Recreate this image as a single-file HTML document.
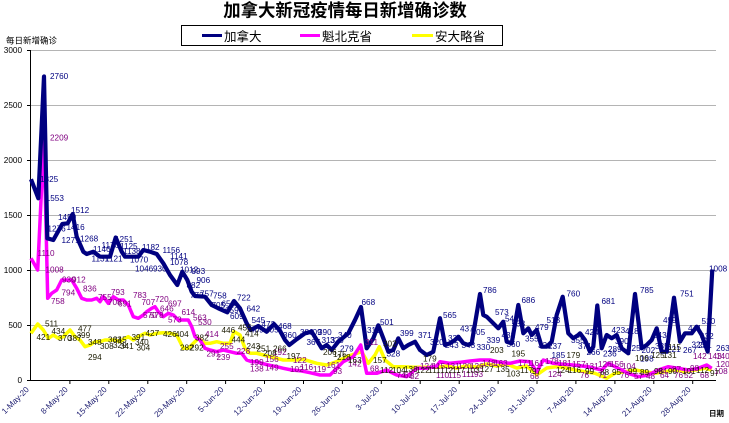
<!DOCTYPE html>
<html><head><meta charset="utf-8"><style>
html,body{margin:0;padding:0;background:#fff;}
svg{display:block;}
.n{font-family:"Liberation Sans",Arial,sans-serif;font-size:8.2px;}
.nv{fill:#000080;}
.mg{fill:#800080;}
.yl{fill:#1a1a00;}
.cjk{font-family:"Liberation Sans","Noto Sans CJK SC","WenQuanYi Zen Hei",sans-serif;}
</style></head><body>
<svg width="729" height="423" viewBox="0 0 729 423" xmlns="http://www.w3.org/2000/svg">
<rect width="729" height="423" fill="#fff"/>
<text x="345" y="16.5" text-anchor="middle" class="cjk" font-size="17.4" font-weight="bold" fill="#000">加拿大新冠疫情每日新增确诊数</text>
<rect x="181.5" y="25.5" width="321" height="20" fill="#fff" stroke="#000" stroke-width="1"/>
<line x1="202" y1="35.5" x2="222" y2="35.5" stroke="#000080" stroke-width="3"/>
<text x="224" y="41" class="cjk" font-size="12.5" fill="#000">加拿大</text>
<line x1="300" y1="35.5" x2="320" y2="35.5" stroke="#ff00ff" stroke-width="3"/>
<text x="322" y="41" class="cjk" font-size="12.5" fill="#000">魁北克省</text>
<line x1="412" y1="35.5" x2="433" y2="35.5" stroke="#ffff00" stroke-width="3"/>
<text x="435" y="41" class="cjk" font-size="12.5" fill="#000">安大略省</text>
<text x="6" y="43.5" class="cjk" font-size="8.5" fill="#000">每日新增确诊</text>
<g stroke="#b4b4b4" stroke-width="1">
<line x1="31" y1="50.5" x2="716" y2="50.5"/>
<line x1="31" y1="105.5" x2="716" y2="105.5"/>
<line x1="31" y1="160.5" x2="716" y2="160.5"/>
<line x1="31" y1="215.5" x2="716" y2="215.5"/>
<line x1="31" y1="270.5" x2="716" y2="270.5"/>
<line x1="31" y1="325.5" x2="716" y2="325.5"/>
</g>
<g stroke="#000" stroke-width="1">
<line x1="30.5" y1="50" x2="30.5" y2="381"/>
<line x1="30" y1="380.5" x2="716" y2="380.5"/>
<line x1="27" y1="50.5" x2="31" y2="50.5"/>
<line x1="27" y1="105.5" x2="31" y2="105.5"/>
<line x1="27" y1="160.5" x2="31" y2="160.5"/>
<line x1="27" y1="215.5" x2="31" y2="215.5"/>
<line x1="27" y1="270.5" x2="31" y2="270.5"/>
<line x1="27" y1="325.5" x2="31" y2="325.5"/>
<line x1="27" y1="380.5" x2="31" y2="380.5"/>
<line x1="69.9" y1="380" x2="69.9" y2="384"/>
<line x1="108.8" y1="380" x2="108.8" y2="384"/>
<line x1="147.8" y1="380" x2="147.8" y2="384"/>
<line x1="186.7" y1="380" x2="186.7" y2="384"/>
<line x1="225.6" y1="380" x2="225.6" y2="384"/>
<line x1="264.5" y1="380" x2="264.5" y2="384"/>
<line x1="303.5" y1="380" x2="303.5" y2="384"/>
<line x1="342.4" y1="380" x2="342.4" y2="384"/>
<line x1="381.3" y1="380" x2="381.3" y2="384"/>
<line x1="420.2" y1="380" x2="420.2" y2="384"/>
<line x1="459.2" y1="380" x2="459.2" y2="384"/>
<line x1="498.1" y1="380" x2="498.1" y2="384"/>
<line x1="537" y1="380" x2="537" y2="384"/>
<line x1="575.9" y1="380" x2="575.9" y2="384"/>
<line x1="614.9" y1="380" x2="614.9" y2="384"/>
<line x1="653.8" y1="380" x2="653.8" y2="384"/>
<line x1="692.7" y1="380" x2="692.7" y2="384"/>
</g>
<g class="n" fill="#000" text-anchor="end" font-size="8">
<text x="22" y="53">3000</text>
<text x="22" y="108">2500</text>
<text x="22" y="163">2000</text>
<text x="22" y="218">1500</text>
<text x="22" y="273">1000</text>
<text x="22" y="328">500</text>
<text x="22" y="383">0</text>
</g>
<g class="n" fill="#1c1c70" text-anchor="end" font-size="8">
<text transform="translate(29.5,390) rotate(-45)">1-May-20</text>
<text transform="translate(68.4,390) rotate(-45)">8-May-20</text>
<text transform="translate(107.3,390) rotate(-45)">15-May-20</text>
<text transform="translate(146.3,390) rotate(-45)">22-May-20</text>
<text transform="translate(185.2,390) rotate(-45)">29-May-20</text>
<text transform="translate(224.1,390) rotate(-45)">5-Jun-20</text>
<text transform="translate(263,390) rotate(-45)">12-Jun-20</text>
<text transform="translate(302,390) rotate(-45)">19-Jun-20</text>
<text transform="translate(340.9,390) rotate(-45)">26-Jun-20</text>
<text transform="translate(379.8,390) rotate(-45)">3-Jul-20</text>
<text transform="translate(418.7,390) rotate(-45)">10-Jul-20</text>
<text transform="translate(457.7,390) rotate(-45)">17-Jul-20</text>
<text transform="translate(496.6,390) rotate(-45)">24-Jul-20</text>
<text transform="translate(535.5,390) rotate(-45)">31-Jul-20</text>
<text transform="translate(574.4,390) rotate(-45)">7-Aug-20</text>
<text transform="translate(613.4,390) rotate(-45)">14-Aug-20</text>
<text transform="translate(652.3,390) rotate(-45)">21-Aug-20</text>
<text transform="translate(691.2,390) rotate(-45)">28-Aug-20</text>
</g>
<text x="709" y="416" class="cjk" font-size="7.5" font-weight="bold" fill="#000">日期</text>

<!-- Ontario (yellow) -->
<polyline fill="none" stroke="#ffff00" stroke-width="3.5" stroke-linejoin="round" points="31,333.3 37.7,324 43.3,330 48.3,338.3 53.3,335 58.3,338.3 63.3,336.7 70,330 75,336.7 80,340 85,346.7 90,345 95,341.7 100,341.7 105,340 110,340 115,340 120,341.7 125,338.3 128.3,336.7 133.3,340 138.3,336.7 145,333.3 150,335 156.7,333.3 163.3,332.7 170,333.3 176.7,335 183.3,348.3 188.3,348.3 191.7,345 198.3,338.3 205,343.3 210,343.3 216.7,341.7 223.3,343.3 230,343.3 234,331.7 240,335 245,348.3 250,353.3 256.7,353.3 263.3,355 270,356.7 276.7,358.3 283.3,360 290,360 296.7,360 303.3,359.3 316.7,363.3 326.7,365 336.7,361.7 346.7,356.7 356.7,353.3 361.7,351.7 368.3,363.3 375,355 379.3,346.7 385,360 393.3,366.7 403.3,366.7 413.3,367.3 423.3,367.3 436.7,367.3 446.7,366 456.7,368 466.7,366 476.7,367 486.7,364 496.7,366 506.7,364 516.7,368 526.7,366 536.7,375 546.7,368 556.7,366.7 566.7,368 575,370 585,371.7 595,373.3 606.7,378.3 615,373.3 625,371.7 635,370 645,371.7 655,373.3 665,371.7 675,370 685,371.7 695,370 705,368.3 711.7,370"/>
<!-- Quebec (magenta) -->
<polyline fill="none" stroke="#ff00ff" stroke-width="3.5" stroke-linejoin="round" points="31,258.3 37.7,270 44,137 47.7,298.3 51.7,293.3 56.7,290 61.7,280 66.7,280 71.7,280 76.7,288.3 81.7,298.3 86.7,300 91.7,300 96.7,298.3 100,301.7 103.3,296.7 108.3,303.3 113.3,296.7 118.3,300 123.3,300 128.3,305 133.3,316.7 138.3,318.3 143.3,315 146.7,311.7 151.7,308.3 155,306.7 158.3,311.7 163.3,316.7 168.3,313.3 173.3,315 178.3,320 183.3,320 188.3,320 191.7,326.7 195,336.7 200,340 205,348.3 210,350 216.7,351.7 223.3,350 230,351.7 236.7,353.3 241.7,353.3 246.7,360 251.7,361.7 256.7,361.7 261.7,363.3 268.3,365 276.7,366.7 283.3,368.3 291.7,370 300,370.7 310,372.7 320,375 330,375 336.7,368.3 343.3,361.7 353.3,356.7 360.7,345 366.7,373.3 376.7,373.3 386.7,370 396.7,375 406.7,376.7 416.7,368.3 426.7,368.3 436.7,366 440,361.7 450,363.3 460,362.3 470,361 480,360 490,360 500,362.3 510,363.3 520,361 530,361.7 536.7,371.7 543.3,360 553.3,363.3 563.3,364.3 573.3,365 588.3,366.7 601.7,370 608.3,363.3 618.3,368.3 628.3,373.3 638.3,376.7 648.3,375 658.3,370 668.3,366.7 678.3,368.3 688.3,370 698.3,368.3 706.7,365 711.7,368.3"/>
<!-- Canada (navy) -->
<polyline fill="none" stroke="#000080" stroke-width="4.2" stroke-linejoin="round" points="31,179.3 38.3,198.3 44,76.5 47.3,238.3 53.3,240 62.3,224 67.7,223.3 72.7,214 76.7,236.7 83.3,251.7 86.7,254 93.3,251.7 100,256.7 110,256.7 115.7,237.5 121.7,251.7 125,256.7 138.3,256.7 143.3,250 150,251.7 156.7,254 163.3,263.3 170,275 177.3,285 182.3,271.7 187.3,280 191.7,291.7 195,296 205,296.7 211.7,305 218.3,308.3 227.3,312.3 234,301 240,308.3 246.7,323.3 250.7,330 258.3,326 266.7,331.7 274,324 280,330.7 285,340 289.3,345 297,339 305,333.3 311.7,331.7 316.7,340 321.7,348.3 326.7,345 331.7,350 338.3,341.7 348.3,333.3 355,320 361,307 366.7,348.3 373.3,338.3 378.3,325.3 383.3,338.3 388.3,351.7 393.3,350 398.3,338.3 403.3,348.3 408.3,345 415,341.7 420,350 426.7,355 433.3,351.7 440,318.2 445,345 450,343.3 455,340 458.3,336.7 463.3,343.3 468.3,345 471.7,343.3 480,294 483.3,315 486.7,316.7 493.3,323.3 498.3,328.3 503.3,321.7 506.7,341.7 511.7,343.3 518.3,305 523.3,333.3 528.3,328.3 531.7,335 536.7,330 541.7,346.7 546.7,346.7 551.7,341.7 556.7,315 562.7,296.7 568.3,333.3 573.3,338.3 578.3,335 580,333.3 585,340 590,351.7 593.3,346.7 597.3,305.5 601.7,348.3 606.7,335 611.7,338.3 616.7,335 621.7,348.3 628.3,353.3 635,294 641.7,348.3 646.7,345 651.7,340 656.7,328.3 661.7,351.7 666.7,351.7 674,297.7 680,341.7 685,333.3 691.7,333.3 696.7,326.7 701.7,335 707.7,351.7 712.3,269.5"/>

<!-- Canada labels -->
<g class="n nv">
<text x="50" y="79">2760</text><text x="40" y="182">1825</text><text x="45.7" y="201">1553</text>
<text x="71" y="213">1512</text><text x="58" y="220">1450</text><text x="66.5" y="230">1416</text>
<text x="47.5" y="231.5">1276</text><text x="61.5" y="243">1271</text><text x="80" y="241.5">1268</text>
<text x="93" y="252">1146</text><text x="101.5" y="248">1176</text><text x="115" y="242">1251</text>
<text x="120" y="249">1125</text><text x="123" y="254">1138</text><text x="91.5" y="261.5">1131</text>
<text x="105" y="261.5">1121</text><text x="130" y="262.5">1070</text><text x="135" y="271.5">1046</text>
<text x="142" y="250">1182</text><text x="162.5" y="253">1156</text><text x="170" y="259">1141</text>
<text x="170" y="265">1078</text><text x="153" y="271.5">930</text><text x="180" y="272.5">1012</text>
<text x="191.5" y="274">993</text><text x="196.5" y="283">906</text><text x="186.5" y="288">882</text>
<text x="190" y="298">772</text><text x="200" y="296.5">757</text><text x="213" y="298.5">758</text>
<text x="211.5" y="308">705</text><text x="221.5" y="306.5">656</text><text x="225" y="313">659</text>
<text x="237" y="300.5">722</text><text x="230" y="319">609</text><text x="246.5" y="311.5">642</text>
<text x="251.5" y="323">545</text><text x="261.5" y="327">472</text><text x="278" y="329">468</text>
<text x="250" y="332.5">409</text><text x="265" y="332.5">405</text><text x="283" y="338">360</text>
<text x="300" y="335">386</text><text x="308" y="335">409</text><text x="318" y="335">390</text>
<text x="306.5" y="345">367</text><text x="321.5" y="343">313</text><text x="330" y="343">320</text>
<text x="338" y="338">340</text><text x="340" y="351.5">279</text><text x="361.5" y="305">668</text>
<text x="367" y="333">311</text><text x="380" y="325">501</text><text x="400" y="336">399</text>
<text x="418" y="338">371</text><text x="386.5" y="356.5">328</text><text x="430" y="345">320</text>
<text x="443" y="318">565</text><text x="445" y="348">243</text><text x="448" y="341">331</text>
<text x="460" y="331.5">437</text><text x="461.5" y="348">343</text><text x="471.5" y="335">405</text>
<text x="476.5" y="350">330</text><text x="483" y="293">786</text><text x="486.5" y="343">339</text>
<text x="495" y="315">573</text><text x="505" y="321.5">541</text><text x="511.5" y="326.5">533</text>
<text x="501.5" y="338">432</text><text x="506.5" y="347">360</text><text x="521.5" y="303">686</text>
<text x="525" y="341.5">355</text><text x="535" y="330">479</text><text x="546.5" y="323">513</text>
<text x="538" y="348">321</text><text x="548" y="349">237</text><text x="551.5" y="358">185</text>
<text x="566.5" y="296.5">760</text><text x="571" y="343">355</text><text x="578" y="349">371</text>
<text x="585" y="335">424</text><text x="586.5" y="355">266</text><text x="601.5" y="304">681</text>
<text x="603" y="356.5">236</text><text x="608" y="352">289</text><text x="611.5" y="333">423</text>
<text x="615" y="344">390</text><text x="625" y="334">418</text><text x="627" y="351">225</text>
<text x="640" y="293">785</text><text x="641.5" y="353">202</text><text x="640" y="361.5">198</text>
<text x="653" y="338">343</text><text x="663" y="323">499</text><text x="655" y="349">335</text>
<text x="667" y="352">221</text><text x="680" y="296.5">751</text><text x="683" y="353">267</text>
<text x="688" y="331">441</text><text x="701.5" y="324">510</text><text x="700" y="339">432</text>
<text x="691.5" y="347.5">323</text><text x="698" y="348">231</text><text x="716" y="351">263</text>
<text x="709" y="271.5">1008</text>
</g>
<!-- Quebec labels -->
<g class="n mg">
<text x="50" y="140.5">2209</text><text x="37.5" y="256">1110</text><text x="45.5" y="272.5">1008</text>
<text x="62" y="282.5">930</text><text x="72" y="282.5">912</text><text x="61.5" y="295.5">794</text>
<text x="51" y="304">758</text><text x="83" y="291.5">836</text><text x="111" y="295">793</text>
<text x="133" y="298">783</text><text x="98" y="300">755</text><text x="108" y="305">708</text>
<text x="118" y="306.5">691</text><text x="141.5" y="305">707</text><text x="143" y="318">570</text>
<text x="155" y="302">720</text><text x="150" y="318">578</text><text x="160" y="311.5">646</text>
<text x="168" y="306.5">697</text><text x="168" y="322.5">573</text><text x="181.5" y="315">614</text>
<text x="193" y="320.5">563</text><text x="198" y="325">530</text><text x="205" y="337">414</text>
<text x="206.5" y="356.5">291</text><text x="216.5" y="360">239</text><text x="220" y="349">255</text>
<text x="236.5" y="354">228</text><text x="250" y="365">199</text><text x="250" y="371.5">138</text>
<text x="265" y="362">156</text><text x="265" y="370.5">149</text><text x="273" y="355">192</text>
<text x="293" y="363">122</text><text x="290" y="372">102</text><text x="300" y="370">116</text>
<text x="313" y="372">119</text><text x="326.5" y="368">161</text><text x="333" y="374">93</text>
<text x="348" y="366.5">142</text><text x="365" y="345">311</text><text x="370" y="371.5">68</text>
<text x="396.5" y="378">74</text><text x="410" y="379">82</text>
<text x="420" y="369">124</text><text x="432" y="369">115</text><text x="446" y="369">131</text>
<text x="458" y="369">120</text><text x="470" y="369">126</text><text x="482" y="366">148</text>
<text x="494" y="366">163</text><text x="518" y="366">171</text><text x="530" y="366">161</text>
<text x="545" y="364">178</text><text x="558" y="366">181</text><text x="572" y="367">157</text>
<text x="585" y="369">131</text><text x="598" y="367">126</text><text x="610" y="367">156</text>
<text x="622" y="369">104</text><text x="658" y="374">94</text><text x="672" y="372">87</text>
<text x="690" y="371">98</text><text x="693" y="359">142</text><text x="708" y="359">143</text>
<text x="404" y="378">62</text><text x="436" y="378">110</text><text x="448" y="378">115</text>
<text x="462" y="377">111</text><text x="474" y="377">93</text><text x="530" y="379">68</text>
<text x="548" y="377">124</text><text x="580" y="378">76</text><text x="598" y="378">71</text>
<text x="620" y="378">76</text><text x="634" y="379">57</text><text x="646" y="379">48</text>
<text x="660" y="378">64</text><text x="674" y="378">76</text><text x="684" y="378">52</text>
<text x="700" y="378">68</text><text x="716" y="359">140</text><text x="716" y="367">120</text>
<text x="714" y="374">108</text>
</g>
<!-- Ontario labels -->
<g class="n yl">
<text x="45" y="326.5">511</text><text x="36.5" y="340">421</text><text x="51.5" y="334">434</text>
<text x="58" y="341">370</text><text x="68" y="341">387</text><text x="76.5" y="338">399</text>
<text x="78" y="331.5">477</text><text x="88" y="345">348</text><text x="88" y="360">294</text>
<text x="100" y="349">308</text><text x="108" y="342.5">363</text><text x="113" y="342.5">345</text>
<text x="113" y="348">329</text><text x="120" y="349">341</text><text x="131.5" y="340">391</text>
<text x="135" y="345">340</text><text x="136.5" y="350.5">304</text><text x="145.5" y="336">427</text>
<text x="163" y="337">426</text><text x="175" y="337">404</text><text x="180" y="350.5">282</text>
<text x="190" y="350.5">292</text><text x="195" y="340.5">382</text><text x="221.5" y="333">446</text>
<text x="238" y="330.5">455</text><text x="245" y="336.5">414</text><text x="231.5" y="342.5">444</text>
<text x="246.5" y="349">243</text><text x="256.5" y="351.5">251</text><text x="263" y="356">208</text>
<text x="273" y="351.5">266</text><text x="286.5" y="359">197</text><text x="323" y="355">206</text>
<text x="333" y="357">175</text><text x="337" y="360">218</text><text x="348" y="363">163</text>
<text x="383" y="346.5">302</text><text x="373" y="363">157</text><text x="423" y="361.5">179</text>
<text x="490" y="353">203</text><text x="511.5" y="356.5">195</text><text x="506.5" y="376.5">103</text>
<text x="566.5" y="358">179</text><text x="663" y="358">131</text><text x="668" y="350">115</text>
<text x="651" y="358">125</text><text x="635" y="361">106</text>
<text x="380" y="373">112</text><text x="392" y="373">104</text><text x="404" y="372">138</text>
<text x="416" y="373">122</text><text x="428" y="373">111</text><text x="440" y="373">112</text>
<text x="452" y="373">117</text><text x="466" y="373">103</text><text x="480" y="372">127</text>
<text x="496" y="372">135</text><text x="520" y="373">117</text><text x="532" y="374">97</text>
<text x="556" y="373">124</text><text x="568" y="373">116</text><text x="585" y="374">99</text>
<text x="600" y="375">88</text><text x="612" y="375">95</text><text x="628" y="374">99</text>
<text x="640" y="375">89</text><text x="654" y="374">98</text><text x="668" y="374">90</text>
<text x="682" y="374">101</text><text x="696" y="373">112</text><text x="710" y="376">97</text>
</g>
</svg>
</body></html>
